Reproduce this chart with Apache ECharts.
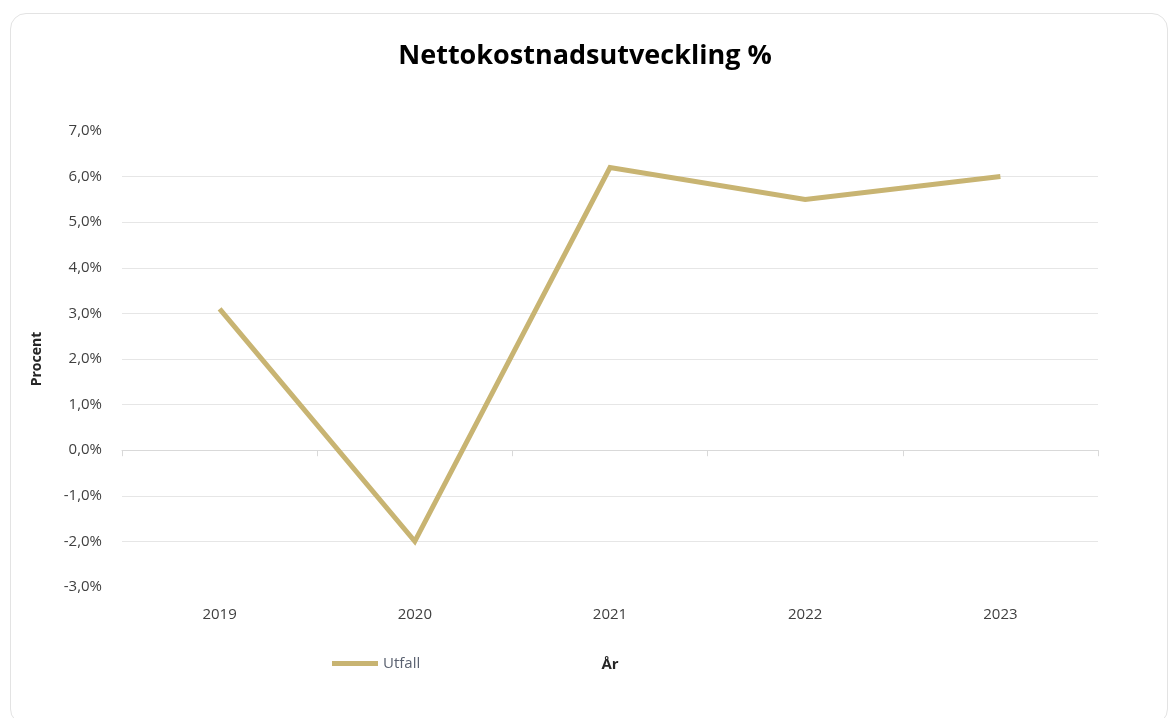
<!DOCTYPE html>
<html>
<head>
<meta charset="utf-8">
<script src="https://cdn.jsdelivr.net/npm/echarts@6/dist/echarts.min.js"></script>
<style>
  html, body { margin: 0; padding: 0; background: #ffffff; }
  #frame { position: absolute; left: 10px; top: 13px; width: 1158px; height: 712px; border: 1px solid #e3e3e3; border-radius: 16px; box-sizing: border-box; }
  #chart { position: absolute; left: 0; top: 0; width: 1170px; height: 718px; }
</style>
</head>
<body>
<div id="frame"></div>
<div id="chart"></div>
<script>
const title = 'Nettokostnadsutveckling %';
const categories = ['2019', '2020', '2021', '2022', '2023'];
const seriesName = 'Utfall';
const values = [3.1, -2.0, 6.2, 5.5, 6.0];
const yMin = -3, yMax = 7, yStep = 1;
const yAxisName = 'Procent';
const xAxisName = 'År';

const chart = echarts.init(document.getElementById('chart'), null, { renderer: 'canvas' });
const fmt = v => v.toFixed(1).replace('.', ',') + '%';
chart.setOption({
  animation: false,
  backgroundColor: 'transparent',
  title: {
    text: title, left: 'center', top: 38,
    textStyle: { fontFamily: 'Open Sans', fontWeight: 'bold', fontSize: 27, color: '#000000' }
  },
  legend: {
    data: [seriesName], left: 327, top: 651,
    icon: 'rect', itemWidth: 46, itemHeight: 5, itemGap: 2,
    textStyle: { fontFamily: 'Open Sans', fontSize: 15, color: '#5a6170' }
  },
  grid: { left: 122, right: 72, top: 131, bottom: 131 },
  xAxis: [
    {
      type: 'category', data: categories, boundaryGap: true,
      axisLine: { onZero: true, lineStyle: { color: '#d9d9d9', width: 1 } },
      axisTick: { show: true, length: 6, lineStyle: { color: '#d9d9d9' } },
      axisLabel: { show: false }, splitLine: { show: false }
    },
    {
      type: 'category', data: categories, boundaryGap: true, position: 'bottom',
      axisLine: { show: false, onZero: false }, axisTick: { show: false },
      axisLabel: { margin: 20, fontFamily: 'Open Sans', fontSize: 15, color: '#404040' },
      name: xAxisName, nameLocation: 'middle', nameGap: 70,
      nameTextStyle: { fontFamily: 'Open Sans', fontWeight: 'bold', fontSize: 15, color: '#262626' }
    }
  ],
  yAxis: {
    type: 'value', min: yMin, max: yMax, interval: yStep,
    axisLine: { show: false }, axisTick: { show: false },
    axisLabel: { formatter: fmt, margin: 20, fontFamily: 'Open Sans', fontSize: 15, color: '#404040' },
    splitLine: { show: true, showMinLine: false, showMaxLine: false, lineStyle: { color: '#e6e6e6', width: 1 } },
    name: yAxisName, nameLocation: 'middle', nameRotate: 90, nameGap: 78,
    nameTextStyle: { fontFamily: 'Open Sans', fontWeight: 'bold', fontSize: 14, color: '#262626' }
  },
  series: [{
    name: seriesName, type: 'line', data: values, xAxisIndex: 0,
    symbol: 'none', lineStyle: { color: '#c8b472', width: 5, join: 'miter' },
    itemStyle: { color: '#c8b472' }
  }]
});
</script>
</body>
</html>
